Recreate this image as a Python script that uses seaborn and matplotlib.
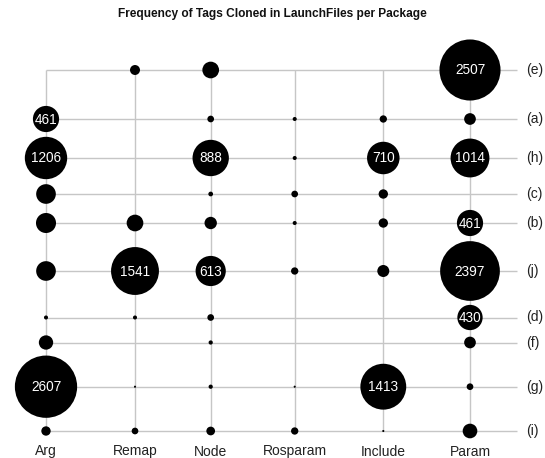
import matplotlib
matplotlib.use("Agg")
import matplotlib.pyplot as plt
import numpy as np
import pandas as pd
import seaborn as sns

# Tag categories (columns) and package groups (rows, top to bottom)
tags = ["Arg", "Remap", "Node", "Rosparam", "Include", "Param"]
packages = ["(e)", "(a)", "(h)", "(c)", "(b)", "(j)", "(d)", "(f)", "(g)", "(i)"]

# Clone counts per tag, in package order
arg = [0, 461, 1206, 260, 270, 260, 11, 138, 2607, 59]
remap = [67, 0, 0, 0, 187, 1541, 11, 0, 3, 30]
node = [187, 30, 888, 15, 103, 613, 30, 12, 12, 51]
rosparam = [0, 11, 11, 30, 11, 36, 0, 0, 3, 36]
include = [0, 36, 710, 59, 59, 97, 0, 0, 1413, 3]
param = [2507, 92, 1014, 0, 461, 2397, 430, 92, 30, 144]

label_threshold = 400

# Layout: axis positions of the tag columns and package rows (pixel grid)
col_pos = [46, 135, 210.7, 294.7, 383.3, 470]
row_pos = [70, 119, 158, 194, 223, 271, 317.5, 342.5, 386.7, 431]
grid_right = 517

series = {"Arg": arg, "Remap": remap, "Node": node,
          "Rosparam": rosparam, "Include": include, "Param": param}
records = []
for t in tags:
    for p, v in zip(packages, series[t]):
        if v > 0:
            records.append({"tag": t, "package": p, "count": v})
df = pd.DataFrame(records)
df["x"] = df["tag"].map(dict(zip(tags, col_pos)))
df["y"] = df["package"].map(dict(zip(packages, row_pos)))

sns.set_theme(style="white")
plt.rcParams["font.family"] = ["Liberation Sans", "DejaVu Sans"]

W, H = 545, 458
fig = plt.figure(figsize=(W / 100, H / 100), dpi=100)
ax = fig.add_axes([0, 0, 1, 1])
ax.set_xlim(0, W)
ax.set_ylim(H, 0)
ax.axis("off")

grid_color = "#c6c6c6"
ax.hlines(row_pos, col_pos[0], grid_right, color=grid_color, lw=1.0, zorder=0)
ax.vlines(col_pos, row_pos[0], row_pos[-1], color=grid_color, lw=1.0, zorder=0)

vmax = max(max(s) for s in series.values())
sns.scatterplot(data=df, x="x", y="y", size="count",
                sizes=(0, 0.771 * vmax), size_norm=(0, vmax),
                color="black", linewidth=0, legend=False, ax=ax, zorder=2)

for _, r in df.iterrows():
    if r["count"] >= label_threshold:
        ax.text(r["x"], r["y"] + 0.5, f"{int(r['count'])}", color="white",
                ha="center", va="center", fontsize=9.8, zorder=3)

label_color = "#222222"
for t, xp in zip(tags, col_pos):
    ax.text(xp, 455.5, t, ha="center", va="baseline", fontsize=10,
            color=label_color)
for p, yp in zip(packages, row_pos):
    ax.text(526, yp, p, ha="left", va="center", fontsize=10, color=label_color)

ax.text(W / 2, 14, "Frequency of Tags Cloned in LaunchFiles per Package",
        ha="center", va="center", fontsize=8.6, fontweight="bold", color="#111111")

fig.savefig("out.png", dpi=100)
